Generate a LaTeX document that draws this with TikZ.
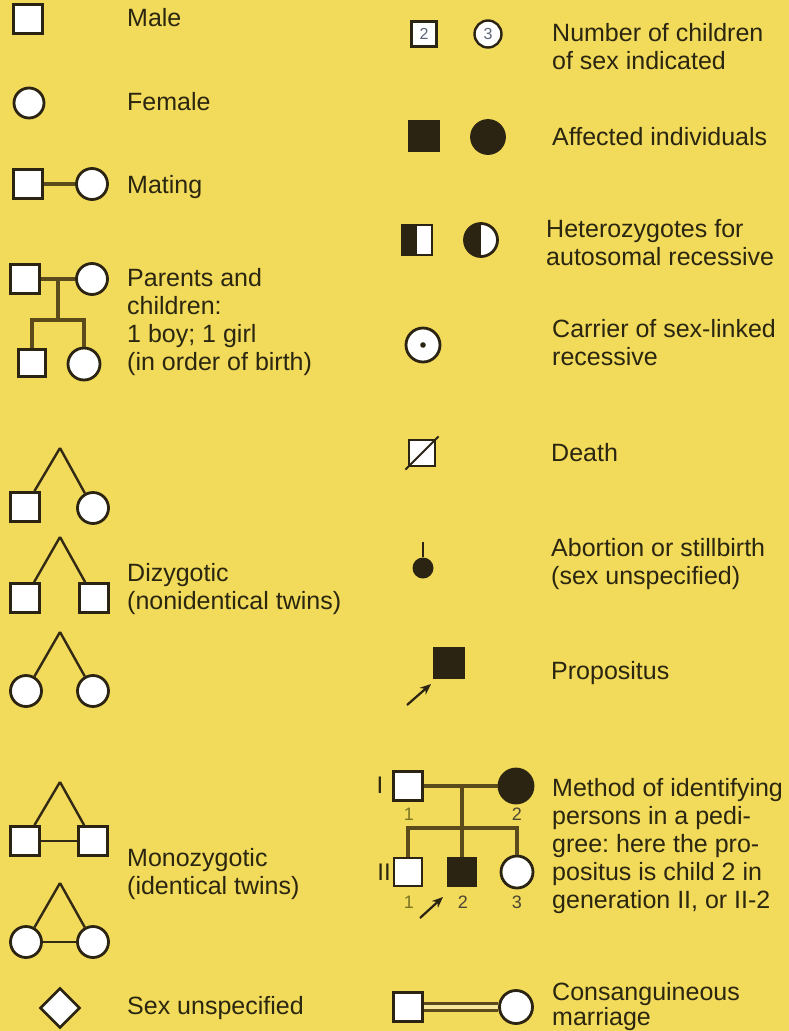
\documentclass[tikz,border=0pt]{standalone}
\usepackage{fontspec}
\setmainfont{Liberation Sans}
\frenchspacing
\usetikzlibrary{shapes.geometric,arrows.meta,calc}
\definecolor{bg}{HTML}{F2DA5A}
\definecolor{ink}{HTML}{2B2412}
\definecolor{conn}{HTML}{5A4A1C}
\definecolor{txt}{HTML}{2A2610}
\definecolor{olivenum}{HTML}{7A7420}
\definecolor{numgray}{HTML}{4A4532}
\definecolor{numblue}{HTML}{5C6478}
\begin{document}
\begin{tikzpicture}[x=1pt,y=-1pt,
  sq/.style={rectangle,draw=ink,fill=white,line width=2.8pt,minimum size=#1,inner sep=0pt},
  sq/.default=29pt,
  ci/.style={circle,draw=ink,fill=white,line width=2.8pt,minimum size=#1,inner sep=0pt},
  ci/.default=31pt,
  filled/.style={fill=ink},
  conn/.style={draw=conn,line width=3.2pt},
  twin/.style={draw=ink!85!conn,line width=2.4pt},
  lbl/.style={anchor=north west,inner sep=0pt,align=left,text=txt,font=\fontsize{25}{28}\selectfont\frenchspacing},
  num/.style={inner sep=0pt,font=\fontsize{18}{18}\selectfont},
  gen/.style={inner sep=0pt,text=txt,font=\fontsize{24}{24}\selectfont},
  parrow/.style={draw=ink,line width=2.2pt,-{Stealth[length=11pt,width=9pt]}},
  hetsq/.style={sq=30pt,path picture={\fill[ink] (path picture bounding box.south west) rectangle (path picture bounding box.north);}},
  hetci/.style={ci=33pt,path picture={\fill[ink] (path picture bounding box.south west) rectangle (path picture bounding box.north);}},
  carrier/.style={ci=34pt,path picture={\fill[ink] (path picture bounding box.center) circle[radius=2.8pt];}}
]
\fill[bg] (0,0) rectangle (789,1031);
\useasboundingbox (0,0) rectangle (789,1031);

% ---------------- left column ----------------
\node[sq] (male) at (28,19) {};
\node[lbl] (tmale) at (127,8) {Male};

\node[ci=30pt] (female) at (29,103) {};
\node[lbl] (tfemale) at (127,92) {Female};

\node[sq] (m1) at (28,184) {};
\node[ci] (m2) at (92,184) {};
\draw[conn] (m1) -- (m2);
\node[lbl] (tmating) at (127,175) {Mating};

\node[sq] (p1) at (25,279) {};
\node[ci] (p2) at (92,279) {};
\coordinate (pm) at (58,279);
\coordinate (ps) at (58,320);
\node[sq=27pt] (c1) at (32,363) {};
\node[ci=32pt] (c2) at (84,364) {};
\draw[conn] (p1) -- (p2);
\draw[conn] (pm) -- (ps);
\draw[conn] (c1) -- (c1 |- ps) -- (c2 |- ps) -- (c2);
\node[lbl] (tparents) at (127,268) {Parents and\\children:\\1 boy; 1 girl\\(in order of birth)};

% dizygotic
\coordinate (a1) at (60,448);
\node[sq] (d1) at (25,507) {};
\node[ci] (d2) at (93,508) {};
\draw[twin] (a1) -- (d1);
\draw[twin] (a1) -- (d2);

\coordinate (a2) at (60,537);
\node[sq] (d3) at (25,598) {};
\node[sq] (d4) at (94,598) {};
\draw[twin] (a2) -- (d3);
\draw[twin] (a2) -- (d4);

\coordinate (a3) at (60,632);
\node[ci] (d5) at (26,691) {};
\node[ci] (d6) at (93,691) {};
\draw[twin] (a3) -- (d5);
\draw[twin] (a3) -- (d6);
\node[lbl] (tdizy) at (127,563) {Dizygotic\\(nonidentical twins)};

% monozygotic
\coordinate (a4) at (60,782);
\node[sq] (z1) at (25,841) {};
\node[sq] (z2) at (93,841) {};
\draw[twin] (a4) -- (z1);
\draw[twin] (a4) -- (z2);
\draw[twin] (z1) -- (z2);

\coordinate (a5) at (60,883);
\node[ci] (z3) at (26,942) {};
\node[ci] (z4) at (93,942) {};
\draw[twin] (a5) -- (z3);
\draw[twin] (a5) -- (z4);
\draw[twin] (z3) -- (z4);
\node[lbl] (tmono) at (127,848) {Monozygotic\\(identical twins)};

\node[diamond,draw=ink,fill=white,line width=2.6pt,minimum size=40pt,inner sep=0pt] (dia) at (60,1008) {};
\node[lbl] (tdia) at (127,996) {Sex unspecified};

% ---------------- right column ----------------
\node[sq=25pt,line width=2.4pt,text=numblue,font=\fontsize{16}{16}\selectfont] (n2) at (424,34) {2};
\node[ci=27pt,line width=2.4pt,text=numblue,font=\fontsize{16}{16}\selectfont] (n3) at (488,34) {3};
\node[lbl] (tnum) at (552,23) {Number of children\\of sex indicated};

\node[sq=30pt,filled] (af1) at (424,136) {};
\node[ci=33pt,filled] (af2) at (488,137) {};
\node[lbl] (taff) at (552,127) {Affected individuals};

\node[hetsq] (h1) at (417,240) {};
\node[hetci] (h2) at (481,240) {};
\node[lbl] (thet) at (546,219) {Heterozygotes for\\autosomal recessive};

\node[carrier] (car) at (423,345) {};
\node[lbl] (tcar) at (552,319) {Carrier of sex-linked\\recessive};

\node[sq=26pt,line width=2.6pt] (death) at (422,453) {};
\draw[draw=ink,line width=2pt] ($(death.south west)!-0.08!(death.north east)$) -- ($(death.north east)!-0.08!(death.south west)$);
\node[lbl] (tdeath) at (551,443) {Death};

\node[circle,fill=ink,minimum size=21pt,inner sep=0pt] (abo) at (423,568) {};
\coordinate (abotop) at (423,542);
\draw[draw=ink,line width=2.4pt] (abo) -- (abotop);
\node[lbl] (tabo) at (551,538) {Abortion or stillbirth\\(sex unspecified)};

\node[sq=30pt,filled] (prop) at (449,663) {};
\coordinate (pa0) at (407,705);
\coordinate (pa1) at (431,684);
\draw[parrow] (pa0) -- (pa1);
\node[lbl] (tprop) at (551,661) {Propositus};

% pedigree
\node[gen] (gI) at (380,785) {I};
\node[sq] (I1) at (408,786) {};
\node[ci=34pt,filled] (I2) at (516,786) {};
\coordinate (mar) at (462,786);
\coordinate (sib) at (462,828);
\node[gen] (gII) at (384,872) {II};
\node[sq=28pt] (II1) at (408,872) {};
\node[sq=28pt,filled] (II2) at (462,872) {};
\node[ci=32pt] (II3) at (517,872) {};
\draw[conn] (I1) -- (I2);
\draw[conn] (mar) -- (II2);
\draw[conn] (II1) -- (II1 |- sib) -- (II3 |- sib) -- (II3);
\node[num,text=olivenum] (lI1) at (409,814) {1};
\node[num,text=numgray] (lI2) at (517,814) {2};
\node[num,text=olivenum] (lII1) at (409,902) {1};
\node[num,text=numgray] (lII2) at (463,902) {2};
\node[num,text=numgray] (lII3) at (517,902) {3};
\coordinate (qa0) at (420,918);
\coordinate (qa1) at (443,897);
\draw[parrow] (qa0) -- (qa1);
\node[lbl] (tmethod) at (552,778) {Method of identifying\\persons in a pedi-\\gree: here the pro-\\positus is child 2 in\\generation II, or II-2};

% consanguineous
\node[sq] (k1) at (408,1007) {};
\node[ci=33pt] (k2) at (516,1007) {};
\draw[draw=conn,line width=2.8pt,double=bg!60!white,double distance=3.5pt] (k1) -- (k2);
\node[lbl,font=\fontsize{25}{25.5}\selectfont\frenchspacing] (tcons) at (552,982) {Consanguineous\\marriage};
\end{tikzpicture}
\end{document}
